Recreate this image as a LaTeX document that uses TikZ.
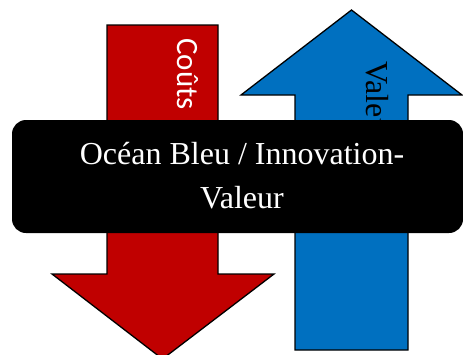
\documentclass[tikz,border=0pt]{standalone}
\usepackage{fontspec}
\setmainfont{Liberation Serif}
\newfontfamily\calfont{Carlito}
\definecolor{arrred}{HTML}{C00000}
\definecolor{arrblue}{HTML}{0070C0}
\begin{document}
\begin{tikzpicture}[x=1pt,y=-1pt,
  arrowshape/.style={draw=black,line width=1.3pt,line join=miter},
  rottext/.style={rotate=-90,anchor=base west,inner sep=0pt},
  bandbox/.style={fill=black,rounded corners=14pt}]
\useasboundingbox (0,0) rectangle (463,354);
\begin{scope}
\clip (0,0) rectangle (463,354);
% red arrow (down)
\filldraw[arrowshape,fill=arrred] (107,25) -- (218,25) -- (218,274) -- (274,274) -- (162.5,359) -- (52,274) -- (107,274) -- cycle;
\node[rottext,text=white,font=\calfont\fontsize{31}{36}\selectfont] (couts) at (177,38) {Coûts};
% blue arrow (up)
\filldraw[arrowshape,fill=arrblue] (351.5,10) -- (462,95) -- (408,95) -- (408,350) -- (295,350) -- (295,95) -- (241,95) -- cycle;
\node[rottext,text=black,font=\fontsize{32}{38}\selectfont] (valeur) at (366,61) {Valeur};
% black band
\fill[bandbox] (12,120) rectangle (463,233);
\end{scope}
\node[text=white,align=center,inner sep=0pt,anchor=base,font=\fontsize{32}{44}\selectfont] (title) at (242,208) {Océan Bleu / Innovation-\\Valeur};
\end{tikzpicture}
\end{document}
